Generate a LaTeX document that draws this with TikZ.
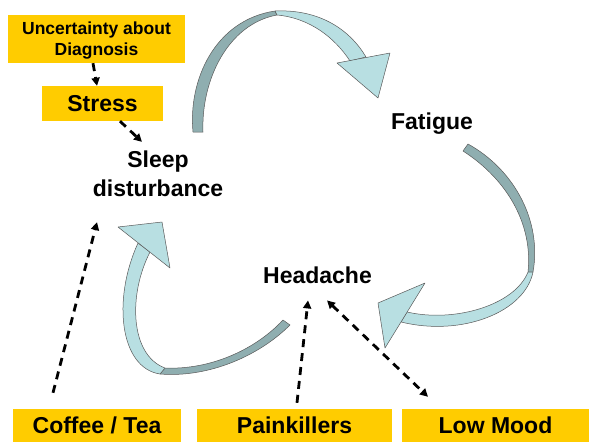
\documentclass[tikz,border=0pt]{standalone}
\usepackage{fontspec}
\setmainfont{Liberation Sans}
\usetikzlibrary{arrows.meta,positioning}

\definecolor{boxgold}{HTML}{FFCC00}
\definecolor{ribbondark}{HTML}{8FAEB0}
\definecolor{ribbonlight}{HTML}{B8DFE2}

\begin{document}
\begin{tikzpicture}[
        x=1pt, y=-1pt,
        >={Triangle[length=8pt,width=8pt]},
        box/.style={fill=boxgold, inner sep=0pt, font=\bfseries\fontsize{23}{27}\selectfont},
        lbl/.style={inner sep=0pt, align=center, font=\bfseries\fontsize{23}{29}\selectfont},
        dashedarrow/.style={draw, line width=2.8pt, dash pattern=on 8pt off 6pt},
        ribback/.style={fill=ribbondark, draw=black!65, line width=0.5pt, line join=round},
        ribfront/.style={fill=ribbonlight, draw=black!65, line width=0.5pt, line join=round},
    ]

    \fill[white] (0,0) rectangle (589,442);
    \useasboundingbox (0,0) rectangle (589,442);

    % === Causes on the top left ===
    \node[box, minimum width=177pt, minimum height=48pt, align=center, text depth=0pt,
          font=\bfseries\fontsize{17.5}{21}\selectfont] (unc) at (96.5,39) {Uncertainty about\\Diagnosis};
    \node[box, minimum width=121pt, minimum height=35pt] (stress) at (102.5,103.5) {Stress};

    % === The cycle ===
    \node[lbl] (sleep) at (158,174) {Sleep\\disturbance};
    \node[lbl, anchor=base] (fatigue) at (432,129) {Fatigue};
    \node[lbl, anchor=base] (headache) at (317.5,283) {Headache};

    % === Causes along the bottom ===
    \node[box, minimum width=168pt, minimum height=33pt] (coffee) at (97,425.5) {Coffee / Tea};
    \node[box, minimum width=195pt, minimum height=33pt] (painkillers) at (294.5,425.5) {Painkillers};
    \node[box, minimum width=187pt, minimum height=33pt] (lowmood) at (495.5,425.5) {Low Mood};

    % --- Sleep -> Fatigue ---
    \draw[ribback] (193,132) .. controls (188,80) and (215,20) .. (275,11)
        -- (277,15) .. controls (228,24) and (201,80) .. (203,132) -- cycle;
    \draw[ribfront] (275,11) .. controls (320,9) and (350,30) .. (366,57)
        -- (350,61) .. controls (335,38) and (310,18) .. (277,15) -- cycle;
    \draw[ribfront] (337,63) -- (390,53) -- (378,98) -- cycle;

    % --- Fatigue -> Headache ---
    \draw[ribback] (468,144) .. controls (515,170) and (542,222) .. (533,272)
        -- (528,272) .. controls (533,225) and (508,180) .. (463,151) -- cycle;
    \draw[ribfront] (533,272) .. controls (525,312) and (462,337) .. (401,322)
        -- (407,312) .. controls (455,323) and (515,305) .. (528,272) -- cycle;
    \draw[ribfront] (425,283) -- (385,348) -- (378,303) -- cycle;

    % --- Headache -> Sleep ---
    \draw[ribback] (290,325) .. controls (260,355) and (210,378) .. (160,374)
        -- (165,368) .. controls (210,370) and (255,350) .. (283,320) -- cycle;
    \draw[ribfront] (160,374) .. controls (120,368) and (112,300) .. (138,243)
        -- (150,252) .. controls (128,295) and (130,355) .. (165,368) -- cycle;
    \draw[ribfront] (118,227) -- (162,222) -- (170,268) -- cycle;

    % === Dashed influences ===
    \draw[dashedarrow, ->] ([xshift=-3.5pt]unc.south) -- ([xshift=-5.5pt]stress.north);
    \draw[dashedarrow, ->] ([xshift=17.5pt]stress.south) -- ([xshift=-16pt,yshift=9pt]sleep.north);
    \draw[dashedarrow, ->] ([xshift=-44pt,yshift=16pt]coffee.north) -- ([xshift=-61pt,yshift=-25pt]sleep.south);
    \draw[dashedarrow, ->] ([xshift=2.5pt,yshift=6pt]painkillers.north) -- ([xshift=-9.5pt,yshift=-17pt]headache.south);
    \draw[dashedarrow, <->] ([xshift=9.5pt,yshift=-17pt]headache.south) -- ([xshift=-67.5pt,yshift=12pt]lowmood.north);

\end{tikzpicture}
\end{document}
